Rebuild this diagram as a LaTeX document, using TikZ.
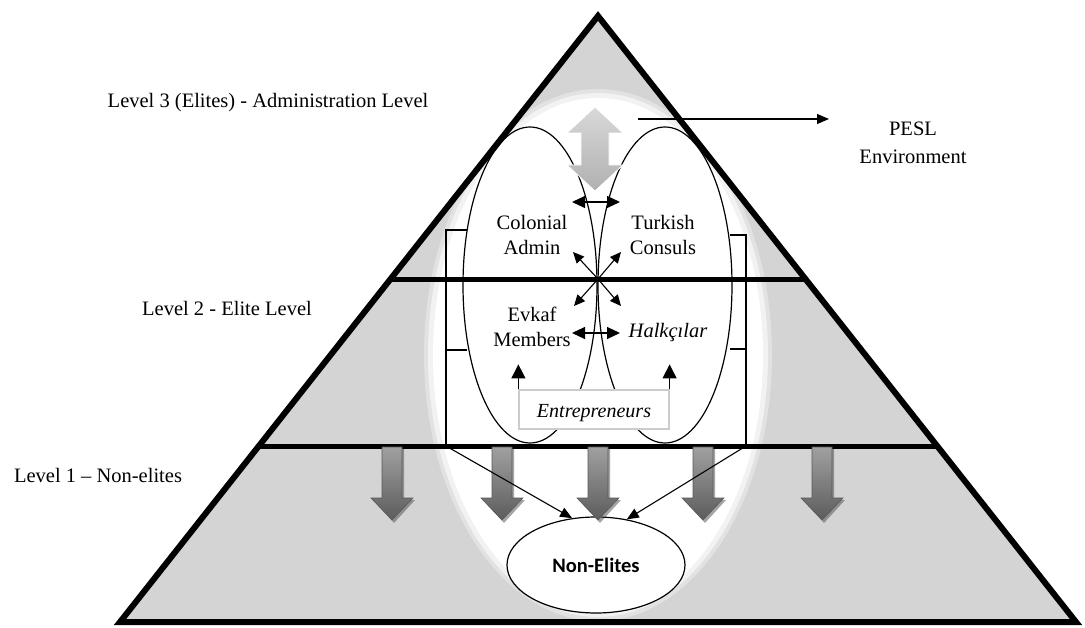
\documentclass[tikz,border=0pt]{standalone}
\usepackage{fontspec}
\setmainfont{Liberation Serif}
\newfontfamily\calib{Carlito}
\usetikzlibrary{shapes.geometric,arrows.meta,calc}
\definecolor{trigray}{RGB}{212,212,212}
\definecolor{glowa}{RGB}{226,226,226}
\definecolor{glowb}{RGB}{242,242,242}
\definecolor{darrtop}{RGB}{160,160,160}
\definecolor{darrbot}{RGB}{92,92,92}
\begin{document}
\begin{tikzpicture}[x=1pt,y=-1pt,
  txt/.style={font=\fontsize{20.5}{25}\selectfont, inner sep=0pt, align=center},
  oval/.style={ellipse, draw, line width=1.2pt, fill=white, minimum width=134pt, minimum height=316pt, inner sep=0pt},
  conn/.style={line width=1.1pt, -{Triangle[length=12pt,width=10pt]}},
  sconn/.style={line width=1.1pt, -{Triangle[length=11pt,width=10pt]}},
  upconn/.style={line width=1.1pt, -{Triangle[length=14pt,width=14pt]}},
  dconn/.style={line width=1.1pt, {Triangle[length=13pt,width=12pt]}-{Triangle[length=13pt,width=12pt]}},
  levelline/.style={line width=5pt},
  bracketline/.style={line width=1.2pt},
  downarr/.style={top color=darrtop, bottom color=darrbot, draw=gray!70!black, line width=0.6pt},
  bigarr/.style={top color=gray!30, bottom color=gray!62, draw=white, line width=0.8pt}
]
\useasboundingbox (0,0) rectangle (1085,628);

% triangle
\coordinate (apex) at (598,16);
\coordinate (bl) at (120,622);
\coordinate (br) at (1076,622);
\fill[trigray] (apex) -- (bl) -- (br) -- cycle;
\begin{scope}
  \clip (apex) -- (bl) -- (br) -- cycle;
  \fill[glowa] (598,355) ellipse [x radius=174pt, y radius=266pt];
  \fill[glowb] (598,355) ellipse [x radius=170pt, y radius=262pt];
  \fill[white] (598,355) ellipse [x radius=165pt, y radius=257pt];
\end{scope}

% ovals
\node[oval] (lov) at (530,285) {};
\node[oval] (rov) at (665,285) {};

% level lines
\coordinate (l2a) at ($(apex)!0.434!(bl)$);
\coordinate (l2b) at ($(apex)!0.434!(br)$);
\coordinate (l1a) at ($(apex)!0.7096!(bl)$);
\coordinate (l1b) at ($(apex)!0.7096!(br)$);
\draw[levelline] (l2a) -- (l2b);
\draw[levelline] (l1a) -- (l1b);
\draw[line width=6pt, line join=miter] (apex) -- (bl) -- (br) -- cycle;

% brackets
\coordinate (lb) at (446,446);
\coordinate (rb) at (746,446);
\draw[bracketline] (467,230) -- (446,230) -- (lb);
\draw[bracketline] (446,350) -- (467,350);
\draw[bracketline] (730,235) -- (746,235) -- (rb);
\draw[bracketline] (730,349) -- (746,349);

% entrepreneurs box
\node[draw=gray!40, fill=white, line width=1.2pt, minimum width=150pt, minimum height=39pt, inner sep=0pt] (ent) at (594,409.5) {};
\node[inner sep=0pt, font=\fontsize{20}{24}\selectfont\itshape] (entt) at (594,413) {Entrepreneurs};
\draw[upconn] (ent.north west) -- ++(0,-25);
\draw[upconn] (ent.north east) -- ++(0,-25);

% texts
\node[txt] (ca) at (532,235) {Colonial\\Admin};
\node[txt] (tc) at (663,235) {Turkish\\Consuls};
\node[txt] (em) at (532,327) {Evkaf\\Members};
\node[txt, font=\fontsize{20.5}{25}\selectfont\itshape] (ha) at (668,333) {Halkçılar};
\node[txt] (lv3) at (268,103) {Level 3 (Elites) - Administration Level};
\node[txt] (lv2) at (227,308) {Level 2 - Elite Level};
\node[txt] (lv1) at (98,475) {Level 1 – Non-elites};
\node[txt, font=\fontsize{20.5}{28}\selectfont] (pesl) at (913,143) {PESL\\Environment};

% big double arrow
\path[bigarr] (595,107) -- (623,133) -- (609,133) -- (609,165) -- (623,165) -- (595,191)
  -- (567,165) -- (581,165) -- (581,133) -- (567,133) -- cycle;

% horizontal double arrows
\coordinate (h1a) at (572,202); \coordinate (h1b) at (620,202);
\draw[dconn] (h1a) -- (h1b);
\coordinate (h2a) at (572,333); \coordinate (h2b) at (620,333);
\draw[dconn] (h2a) -- (h2b);

% center cross
\coordinate (cx) at (598,279);
\draw[sconn] (cx) -- (573,252);
\draw[sconn] (cx) -- (621,252);
\draw[sconn] (cx) -- (574,306);
\draw[sconn] (cx) -- (621,306);

% arrow to PESL
\coordinate (pa) at (638,119);
\coordinate (pb) at (829,119);
\draw[conn] (pa) -- (pb);

% non-elites
\node[ellipse, draw, fill=white, line width=1.2pt, minimum width=178pt, minimum height=96pt, inner sep=0pt,
      font=\calib\bfseries\fontsize{20.5}{24}\selectfont] (ne) at (596,565) {Non-Elites};

% down arrows
\foreach \x in {392,502,598,703,822}{
  \fill[gray!60!black, opacity=0.5] (\x-9,449) -- (\x+12,449) -- (\x+12,500) -- (\x+23,500) -- (\x+2,523) -- (\x-19,500) -- (\x-9,500) -- cycle;
  \path[downarr] (\x-10,447) -- (\x+10,447) -- (\x+10,498) -- (\x+21,498) -- (\x,520) -- (\x-21,498) -- (\x-10,498) -- cycle;
}

% connectors to non-elites
\draw[conn] (lb) -- (ne.117);
\draw[conn] (rb) -- (ne.56);
\end{tikzpicture}
\end{document}
